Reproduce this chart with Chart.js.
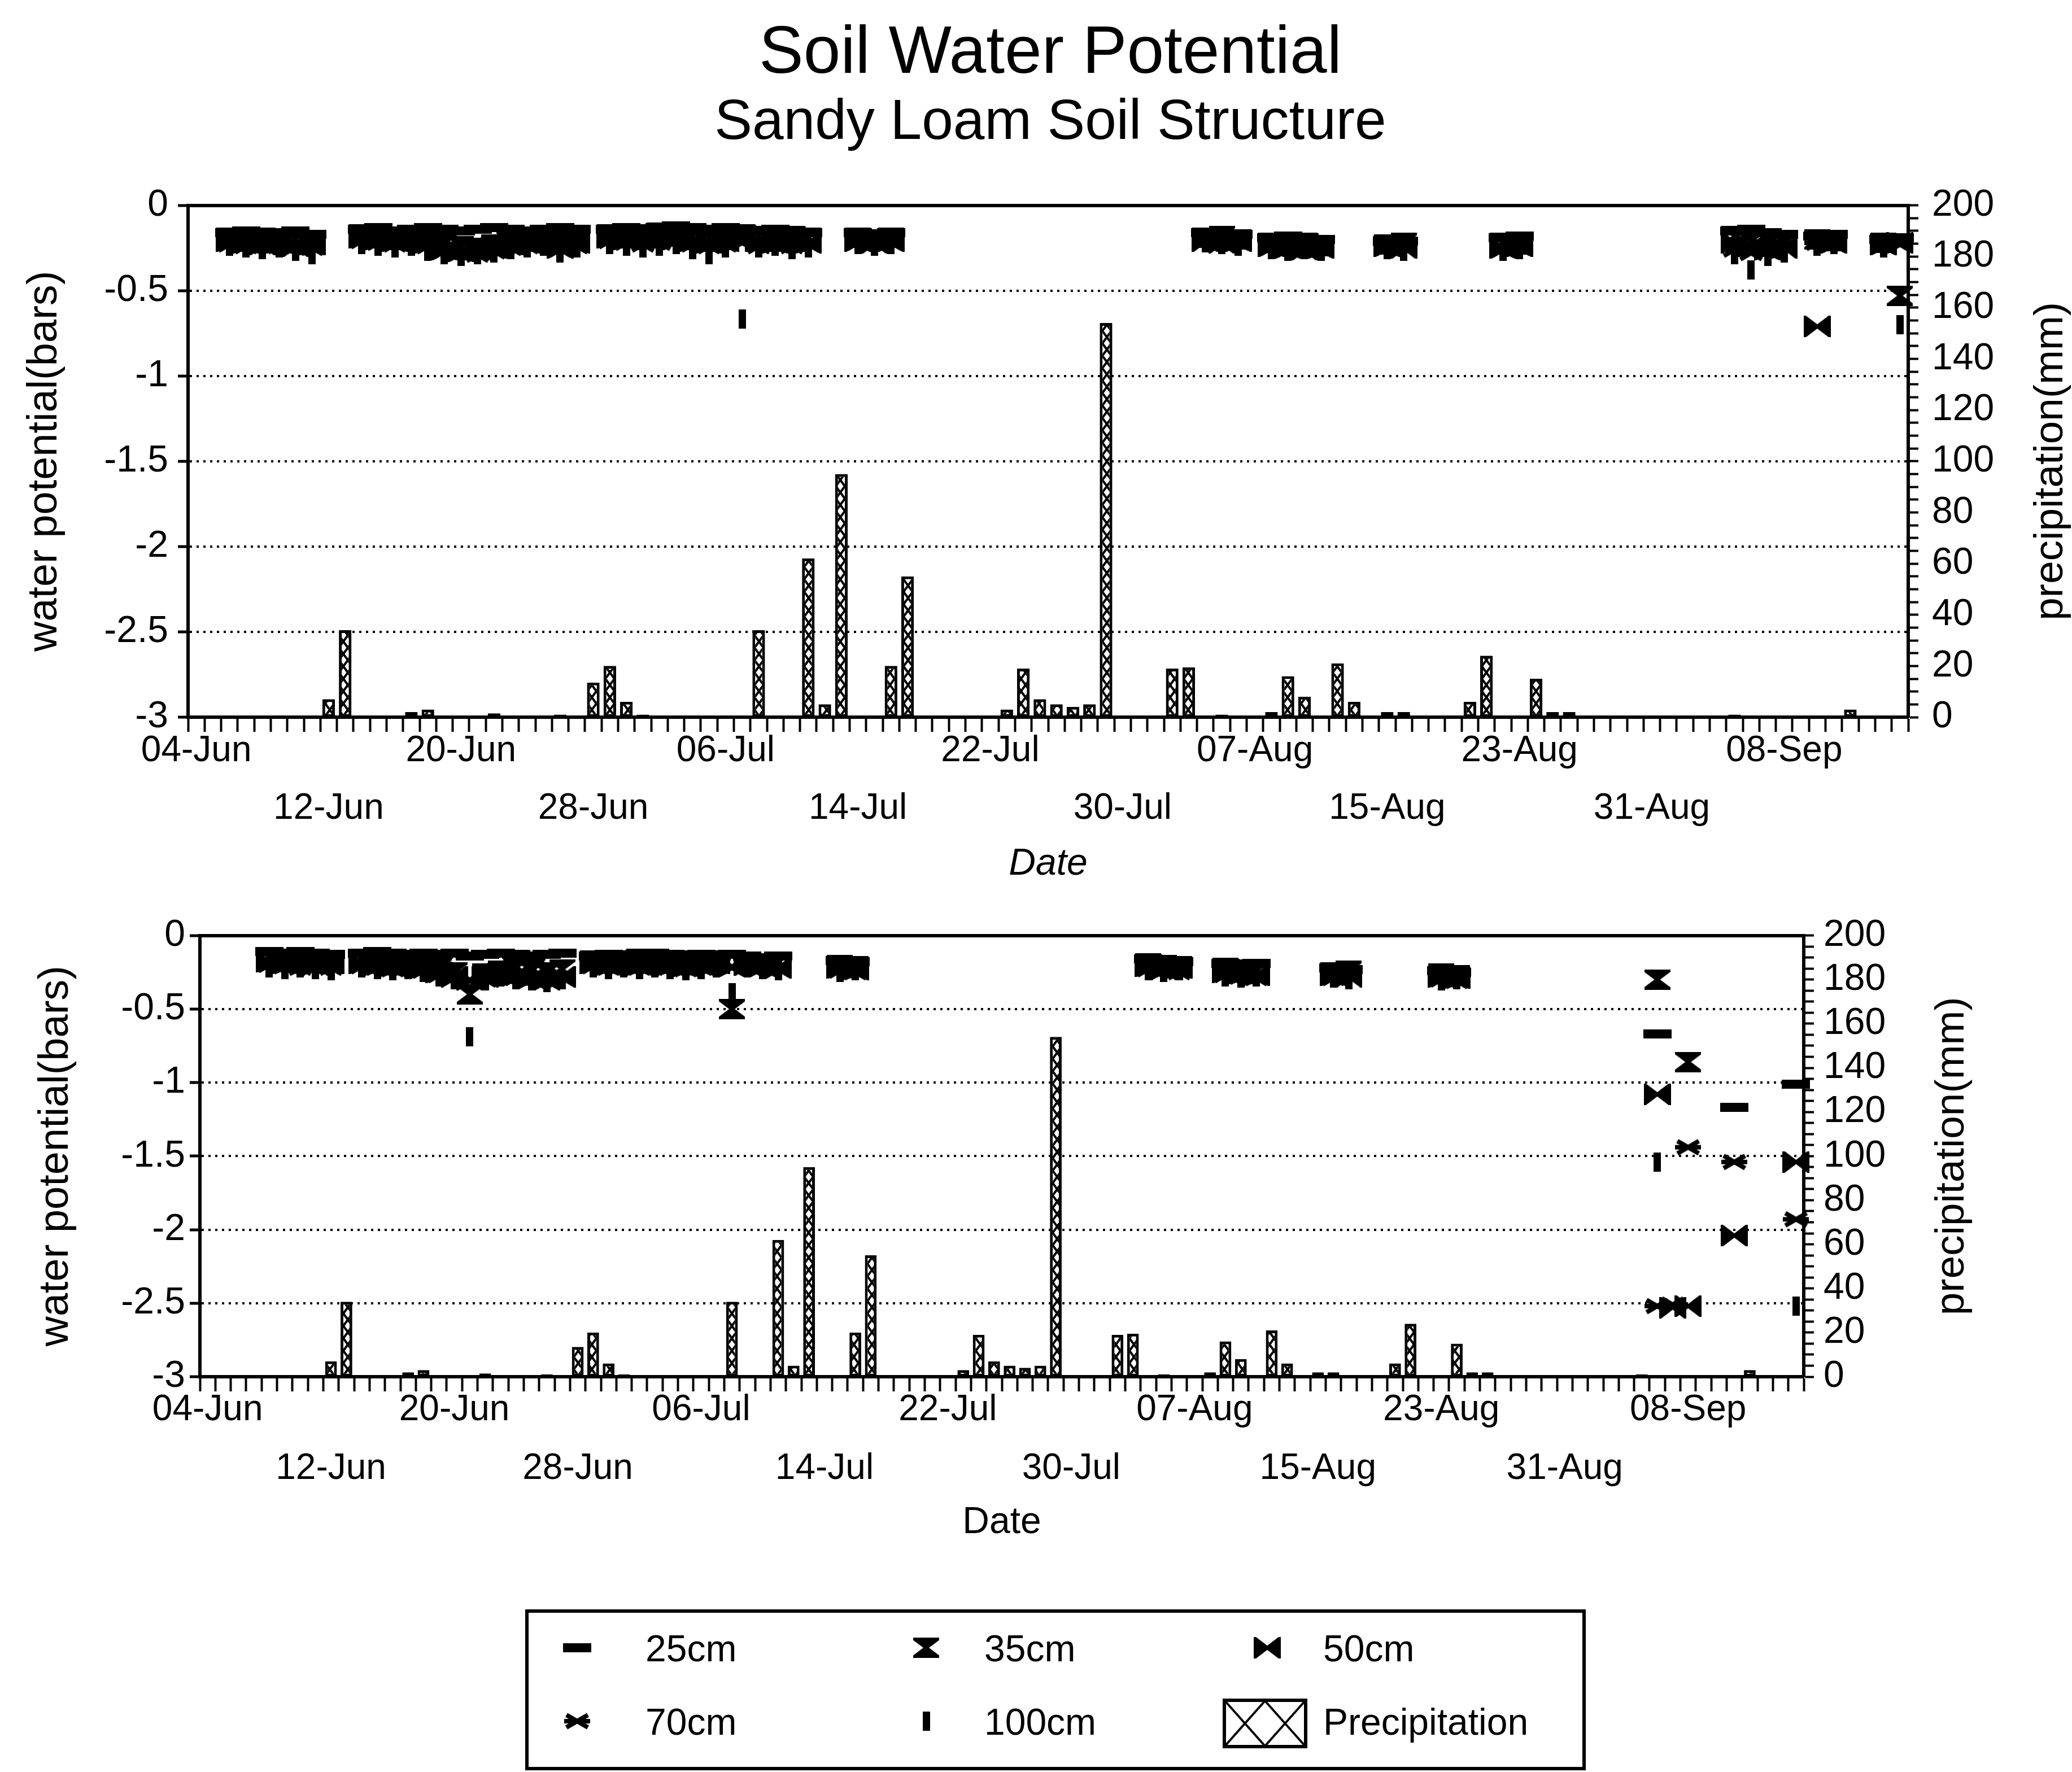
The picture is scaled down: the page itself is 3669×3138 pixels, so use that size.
<!DOCTYPE html>
<html lang="en">
<head>
<meta charset="utf-8">
<title>Soil Water Potential</title>
<script src="https://cdn.jsdelivr.net/npm/chart.js@4.4.1/dist/chart.umd.min.js"></script>
<style>
  html, body { margin: 0; padding: 0; background: #fff; }
  body {
    position: relative; width: 3669px; height: 3138px; overflow: hidden;
    font-family: 'Liberation Sans', Arial, Helvetica, sans-serif; color: #000;
  }
  .heading { position: absolute; left: 0; width: 3720px; text-align: center; line-height: 1; white-space: nowrap; }
  #title { top: 29px; font-size: 118px; }
  #subtitle { top: 161px; font-size: 100px; }
  canvas.panel { position: absolute; left: 0; }
  #upperPanel { top: 300px; }
  #lowerPanel { top: 1600px; }
  #legend {
    position: absolute; left: 930px; top: 2850px; width: 1878px; height: 285px;
    box-sizing: border-box; border: 6px solid #000;
  }
  #legend canvas { position: absolute; }
  #legend .key-label { position: absolute; font-size: 66px; line-height: 1; white-space: nowrap; }
</style>
</head>
<body>
<div id="title" class="heading">Soil Water Potential</div>
<div id="subtitle" class="heading">Sandy Loam Soil Structure</div>
<canvas id="upperPanel" class="panel" width="3669" height="1300"></canvas>
<canvas id="lowerPanel" class="panel" width="3669" height="1150"></canvas>
<div id="legend"></div>
<script>
const _ = null;

// one category per day, 04-Jun .. 15-Sep
const days = [
  '04-Jun','05-Jun','06-Jun','07-Jun','08-Jun','09-Jun','10-Jun','11-Jun',
  '12-Jun','13-Jun','14-Jun','15-Jun','16-Jun','17-Jun','18-Jun','19-Jun',
  '20-Jun','21-Jun','22-Jun','23-Jun','24-Jun','25-Jun','26-Jun','27-Jun',
  '28-Jun','29-Jun','30-Jun','01-Jul','02-Jul','03-Jul','04-Jul','05-Jul',
  '06-Jul','07-Jul','08-Jul','09-Jul','10-Jul','11-Jul','12-Jul','13-Jul',
  '14-Jul','15-Jul','16-Jul','17-Jul','18-Jul','19-Jul','20-Jul','21-Jul',
  '22-Jul','23-Jul','24-Jul','25-Jul','26-Jul','27-Jul','28-Jul','29-Jul',
  '30-Jul','31-Jul','01-Aug','02-Aug','03-Aug','04-Aug','05-Aug','06-Aug',
  '07-Aug','08-Aug','09-Aug','10-Aug','11-Aug','12-Aug','13-Aug','14-Aug',
  '15-Aug','16-Aug','17-Aug','18-Aug','19-Aug','20-Aug','21-Aug','22-Aug',
  '23-Aug','24-Aug','25-Aug','26-Aug','27-Aug','28-Aug','29-Aug','30-Aug',
  '31-Aug','01-Sep','02-Sep','03-Sep','04-Sep','05-Sep','06-Sep','07-Sep',
  '08-Sep','09-Sep','10-Sep','11-Sep','12-Sep','13-Sep','14-Sep','15-Sep'
];

// labelled dates, first and second row under the axis
const dateTicksRow1 = ['04-Jun', '20-Jun', '06-Jul', '22-Jul', '07-Aug', '23-Aug', '08-Sep'];
const dateTicksRow2 = ['12-Jun', '28-Jun', '14-Jul', '30-Jul', '15-Aug', '31-Aug'];

const depths = ['25cm', '35cm', '50cm', '70cm', '100cm'];

// daily rainfall (mm), same gauge for both panels
const precipitation = [
  0, 0, 0, 0, 0, 0, 0, 0,
  7, 34, 0, 0, 0, 2, 3, 0,
  0, 0, 1.5, 0, 0, 0, 1, 0,
  13.5, 20, 6, 1, 0, 0, 0, 0,
  0, 0, 34, 0, 0, 62, 5, 95,
  0, 0, 20, 55, 0, 0, 0, 0,
  0, 3, 19, 7, 5, 4, 5, 154,
  0, 0, 0, 19, 19.5, 0, 1, 0,
  0, 2, 16, 8, 0, 21, 6, 0,
  2, 2, 0, 0, 0, 6, 24, 0,
  0, 15, 2, 2, 0, 0, 0, 0,
  0, 0, 0, 0, 0, 1, 0, 0,
  0, 0, 0, 0, 3, 0, 0, 0
];

// upper panel, water potential (bars) by depth
const upper25 = [
  _, _, -0.16, -0.15, -0.17, -0.16, -0.15, -0.17,
  _, _, -0.14, -0.13, -0.15, -0.14, -0.13, -0.14,
  -0.15, -0.14, -0.13, -0.14, -0.15, -0.14, -0.13, -0.14,
  _, -0.14, -0.13, -0.14, -0.13, -0.12, -0.13, -0.14,
  -0.13, -0.14, -0.15, -0.14, -0.15, -0.16, _, _,
  -0.16, -0.17, -0.16, _, _, _, _, _,
  _, _, _, _, _, _, _, _,
  _, _, _, _, _, -0.16, -0.17, -0.17,
  _, -0.19, -0.18, -0.19, -0.20, _, _, _,
  -0.21, -0.21, _, _, _, _, _, -0.19,
  -0.18, _, _, _, _, _, _, _,
  _, _, _, _, _, -0.15, -0.14, -0.16,
  -0.17, _, -0.18, -0.17, _, _, -0.20, -0.19
];
const upper35 = [
  _, _, -0.19, -0.20, -0.19, -0.21, -0.20, -0.22,
  _, _, -0.17, -0.18, -0.19, -0.18, -0.20, -0.22,
  -0.24, -0.25, -0.23, -0.21, -0.20, -0.19, -0.21, -0.20,
  _, -0.17, -0.18, -0.17, -0.16, -0.17, -0.18, -0.19,
  -0.18, -0.17, -0.18, -0.19, -0.18, -0.19, _, _,
  -0.19, -0.20, -0.19, _, _, _, _, _,
  _, _, _, _, _, _, _, _,
  _, _, _, _, _, -0.19, -0.18, -0.20,
  _, -0.22, -0.23, -0.22, -0.24, _, _, _,
  -0.23, -0.22, _, _, _, _, _, -0.22,
  -0.23, _, _, _, _, _, _, _,
  _, _, _, _, _, -0.18, -0.21, -0.20,
  -0.22, _, -0.20, -0.21, _, _, -0.22, -0.53
];
const upper50 = [
  _, _, -0.21, -0.22, -0.23, -0.22, -0.24, -0.23,
  _, _, -0.19, -0.20, -0.21, -0.20, -0.22, -0.26,
  -0.27, -0.26, -0.25, -0.23, -0.22, -0.21, -0.25, -0.22,
  _, -0.19, -0.20, -0.19, -0.18, -0.20, -0.21, -0.22,
  -0.21, -0.20, -0.21, -0.22, -0.21, -0.22, _, _,
  -0.21, -0.22, -0.21, _, _, _, _, _,
  _, _, _, _, _, _, _, _,
  _, _, _, _, _, -0.21, -0.22, -0.21,
  _, -0.24, -0.25, -0.26, -0.25, _, _, _,
  -0.24, -0.25, _, _, _, _, _, -0.25,
  -0.24, _, _, _, _, _, _, _,
  _, _, _, _, _, -0.22, -0.24, -0.26,
  -0.25, _, -0.71, -0.22, _, _, -0.23, -0.22
];
const upper70 = [
  _, _, -0.23, -0.24, -0.22, -0.24, -0.23, -0.25,
  _, _, -0.21, -0.22, -0.23, -0.22, -0.24, -0.27,
  -0.28, -0.29, -0.27, -0.25, -0.24, -0.23, -0.26, -0.24,
  _, -0.21, -0.22, -0.23, -0.22, -0.21, -0.23, -0.24,
  -0.23, -0.22, -0.24, -0.23, -0.24, -0.23, _, _,
  -0.22, -0.21, -0.22, _, _, _, _, _,
  _, _, _, _, _, _, _, _,
  _, _, _, _, _, -0.20, -0.21, -0.22,
  _, -0.25, -0.26, -0.24, -0.26, _, _, _,
  -0.25, -0.24, _, _, _, _, _, -0.26,
  -0.25, _, _, _, _, _, _, _,
  _, _, _, _, _, -0.26, -0.28, -0.27,
  -0.24, _, -0.22, -0.23, _, _, -0.24, -0.23
];
const upper100 = [
  _, _, -0.24, -0.25, -0.26, -0.25, -0.27, -0.29,
  _, _, -0.23, -0.24, -0.25, -0.24, -0.27, -0.29,
  -0.30, -0.29, -0.28, -0.26, -0.25, -0.24, -0.28, -0.25,
  _, -0.23, -0.24, -0.25, -0.24, -0.23, -0.26, -0.29,
  -0.25, -0.665, -0.25, -0.24, -0.26, -0.25, _, _,
  -0.23, -0.24, -0.23, _, _, _, _, _,
  _, _, _, _, _, _, _, _,
  _, _, _, _, _, -0.22, -0.23, -0.24,
  _, -0.26, -0.27, -0.26, -0.27, _, _, _,
  -0.26, -0.27, _, _, _, _, _, -0.27,
  -0.26, _, _, _, _, _, _, _,
  _, _, _, _, _, -0.29, -0.38, -0.30,
  -0.28, _, -0.24, -0.23, _, _, -0.25, -0.70
];

// lower panel, water potential (bars) by depth
const lower25 = [
  _, _, _, _, -0.11, -0.12, -0.11, -0.12,
  -0.13, _, -0.12, -0.11, -0.12, -0.13, -0.12, -0.13,
  -0.12, -0.14, -0.13, -0.12, -0.13, -0.14, -0.13, -0.12,
  _, -0.14, -0.13, -0.14, -0.13, -0.12, -0.13, -0.14,
  -0.13, -0.14, -0.13, -0.14, -0.15, -0.14, _, _,
  _, -0.17, -0.18, _, _, _, _, _,
  _, _, _, _, _, _, _, _,
  _, _, _, _, _, -0.16, -0.17, -0.18,
  _, _, -0.19, -0.20, -0.19, _, _, _,
  _, -0.22, -0.23, _, _, _, _, _,
  -0.24, -0.25, _, _, _, _, _, _,
  _, _, _, _, _, _, -0.67, _,
  _, _, _, -1.17, _, _, _, -1.01
];
const lower35 = [
  _, _, _, _, -0.15, -0.16, -0.17, -0.16,
  -0.18, _, -0.16, -0.17, -0.18, -0.17, -0.19, -0.22,
  -0.25, -0.40, -0.26, -0.24, -0.22, -0.24, -0.25, -0.23,
  _, -0.17, -0.18, -0.17, -0.16, -0.17, -0.18, -0.17,
  -0.18, -0.17, -0.50, -0.18, -0.19, -0.18, _, _,
  _, -0.20, -0.21, _, _, _, _, _,
  _, _, _, _, _, _, _, _,
  _, _, _, _, _, -0.19, -0.20, -0.21,
  _, _, -0.22, -0.23, -0.24, _, _, _,
  _, -0.25, -0.24, _, _, _, _, _,
  -0.26, -0.27, _, _, _, _, _, _,
  _, _, _, _, _, _, -0.30, _,
  -0.86, _, _, _, _, _, _, _
];
const lower50 = [
  _, _, _, _, -0.18, -0.19, -0.18, -0.20,
  -0.19, _, -0.19, -0.20, -0.21, -0.20, -0.22, -0.25,
  -0.28, -0.30, -0.28, -0.26, -0.27, -0.29, -0.30, -0.28,
  _, -0.19, -0.20, -0.19, -0.20, -0.19, -0.20, -0.21,
  -0.20, -0.19, -0.21, -0.20, -0.21, -0.22, _, _,
  _, -0.22, -0.23, _, _, _, _, _,
  _, _, _, _, _, _, _, _,
  _, _, _, _, _, -0.21, -0.23, -0.22,
  _, _, -0.25, -0.26, -0.27, _, _, _,
  _, -0.27, -0.28, _, _, _, _, _,
  -0.28, -0.29, _, _, _, _, _, _,
  _, _, _, _, _, _, -1.08, -2.53,
  -2.52, _, _, -2.04, _, _, _, -1.54
];
const lower70 = [
  _, _, _, _, -0.20, -0.21, -0.22, -0.21,
  -0.22, _, -0.21, -0.22, -0.23, -0.22, -0.24, -0.27,
  -0.29, -0.31, -0.30, -0.27, -0.29, -0.30, -0.31, -0.29,
  _, -0.21, -0.22, -0.21, -0.22, -0.21, -0.22, -0.23,
  -0.22, -0.21, -0.22, -0.21, -0.22, -0.23, _, _,
  _, -0.24, -0.25, _, _, _, _, _,
  _, _, _, _, _, _, _, _,
  _, _, _, _, _, -0.23, -0.24, -0.25,
  _, _, -0.27, -0.28, -0.29, _, _, _,
  _, -0.29, -0.28, _, _, _, _, _,
  -0.30, -0.31, _, _, _, _, _, _,
  _, _, _, _, _, _, -2.52, -2.51,
  -1.44, _, _, -1.54, _, _, _, -1.93
];
const lower100 = [
  _, _, _, _, -0.22, -0.23, -0.22, -0.23,
  -0.24, _, -0.22, -0.23, -0.24, -0.23, -0.25, -0.28,
  -0.30, -0.69, -0.31, -0.28, -0.30, -0.31, -0.32, -0.30,
  _, -0.22, -0.23, -0.22, -0.23, -0.22, -0.23, -0.24,
  -0.23, -0.22, -0.39, -0.22, -0.23, -0.24, _, _,
  _, -0.25, -0.24, _, _, _, _, _,
  _, _, _, _, _, _, _, _,
  _, _, _, _, _, -0.24, -0.25, -0.24,
  _, _, -0.28, -0.29, -0.28, _, _, _,
  _, -0.29, -0.30, _, _, _, _, _,
  -0.31, -0.30, _, _, _, _, _, _,
  _, _, _, _, _, _, -1.54, _,
  _, _, _, _, _, _, _, -2.52
];

const INK = '#000';
Chart.defaults.font.family = "'Liberation Sans', Arial, Helvetica, sans-serif";
Chart.defaults.color = INK;

// marker glyphs, one per depth
const markerShapes = [
  { w: 50, h: 16, paint: (g, w, h) => g.fillRect(0, 0, w, h) },
  { w: 46, h: 36, paint: (g, w, h) => {   // hourglass
      g.beginPath(); g.moveTo(3, 3); g.lineTo(w - 3, 3); g.lineTo(3, h - 3); g.lineTo(w - 3, h - 3);
      g.closePath(); g.fill(); g.stroke();
  } },
  { w: 48, h: 38, paint: (g, w, h) => {   // bow tie
      g.beginPath(); g.moveTo(3, 3); g.lineTo(3, h - 3); g.lineTo(w - 3, 3); g.lineTo(w - 3, h - 3);
      g.closePath(); g.fill(); g.stroke();
  } },
  { w: 46, h: 30, paint: (g, w, h) => {   // star
      g.lineWidth = 8; g.beginPath();
      g.moveTo(4, 4); g.lineTo(w - 4, h - 4); g.moveTo(w - 4, 4); g.lineTo(4, h - 4);
      g.moveTo(0, h / 2); g.lineTo(w, h / 2); g.stroke();
  } },
  { w: 13, h: 34, paint: (g, w, h) => g.fillRect(0, 0, w, h) }
];

function makeMarker(shape) {
  const c = document.createElement('canvas');
  c.width = shape.w; c.height = shape.h;
  const g = c.getContext('2d');
  g.fillStyle = INK; g.strokeStyle = INK; g.lineWidth = 6;
  shape.paint(g, shape.w, shape.h);
  return c;
}
const markerImages = markerShapes.map(makeMarker);

// cross-hatch fill for the rainfall columns
const hatchTile = document.createElement('canvas');
hatchTile.width = 16; hatchTile.height = 22;
(function () {
  const g = hatchTile.getContext('2d');
  g.fillStyle = '#fff'; g.fillRect(0, 0, 16, 22);
  g.strokeStyle = INK; g.lineWidth = 4;
  g.beginPath(); g.moveTo(0, 0); g.lineTo(16, 22); g.moveTo(16, 0); g.lineTo(0, 22); g.stroke();
})();

// rotated axis captions (both read bottom to top)
const sideTitles = {
  id: 'sideTitles',
  afterDraw(chart, args, opts) {
    const { ctx, chartArea } = chart;
    const midY = (chartArea.top + chartArea.bottom) / 2;
    opts.items.forEach(t => {
      ctx.save();
      ctx.translate(t.x, midY);
      ctx.rotate(-Math.PI / 2);
      ctx.font = `${t.size}px ${Chart.defaults.font.family}`;
      ctx.fillStyle = INK;
      ctx.textAlign = 'center';
      ctx.textBaseline = 'middle';
      ctx.fillText(t.text, 0, 0);
      ctx.restore();
    });
  }
};

function buildPanel(canvasId, series, geo) {
  const canvas = document.getElementById(canvasId);
  const datasets = series.map((values, k) => ({
    type: 'line',
    label: depths[k],
    data: values,
    xAxisID: 'x',
    yAxisID: 'y',
    showLine: false,
    pointStyle: markerImages[k],
    pointRadius: 12,
    pointHoverRadius: 12,
    pointBorderWidth: 0,
    clip: false,
    order: k
  }));
  datasets.push({
    type: 'bar',
    label: 'Precipitation',
    data: precipitation,
    xAxisID: 'x',
    yAxisID: 'y2',
    backgroundColor: canvas.getContext('2d').createPattern(hatchTile, 'repeat'),
    borderColor: INK,
    borderWidth: 5,
    borderSkipped: false,
    barPercentage: 0.76,
    categoryPercentage: 1,
    order: 10
  });

  return new Chart(canvas, {
    type: 'bar',
    data: { labels: days, datasets },
    plugins: [sideTitles],
    options: {
      responsive: false,
      animation: false,
      devicePixelRatio: 1,
      layout: { padding: { top: geo.top, left: 0, right: 0, bottom: 0 } },
      plugins: {
        legend: { display: false },
        tooltip: { enabled: false },
        sideTitles: {
          items: [
            { text: 'water potential(bars)', x: geo.leftTitleX, size: 74 },
            { text: 'precipitation(mm)', x: geo.rightTitleX, size: 73 }
          ]
        }
      },
      scales: {
        x: {
          type: 'category',
          position: 'bottom',
          offset: true,
          grid: {
            offset: true, drawOnChartArea: false, drawTicks: true,
            tickLength: 26, tickWidth: 4, tickColor: INK, color: INK
          },
          border: { display: true, width: 6, color: INK },
          ticks: {
            autoSkip: false, maxRotation: 0, minRotation: 0,
            padding: geo.labelPad,
            font: { size: 64, lineHeight: geo.labelLine },
            callback(value) {
              const day = this.getLabelForValue(value);
              if (dateTicksRow1.includes(day)) return day;
              if (dateTicksRow2.includes(day)) return ['', day];
              return '';
            }
          },
          title: {
            display: true, text: 'Date',
            font: { size: 66, style: geo.dateStyle },
            padding: { top: 0, bottom: geo.datePad }
          },
          afterFit(s) { s.height = geo.xHeight; }
        },
        xTop: {
          type: 'category',
          axis: 'x',
          position: 'top',
          offset: true,
          grid: { display: false, drawTicks: false },
          ticks: { display: false },
          border: { display: true, width: 6, color: INK },
          afterFit(s) { s.height = 0; }
        },
        y: {
          position: 'left',
          min: -3,
          max: 0,
          ticks: {
            stepSize: 0.5,
            padding: geo.yPad,
            font: { size: 66 },
            callback: v => String(v)
          },
          grid: {
            color: c => (c.tick && (c.tick.value === 0 || c.tick.value === -3)) ? 'rgba(0,0,0,0)' : INK,
            lineWidth: 4,
            drawTicks: true, tickLength: 18, tickWidth: 5, tickColor: INK
          },
          border: { display: true, width: 6, color: INK, dash: [4, 8] },
          afterFit(s) { s.width = geo.left; }
        },
        y2: {
          position: 'right',
          min: 0,
          max: 200,
          ticks: {
            stepSize: 5,
            maxTicksLimit: 100,
            autoSkip: false,
            padding: geo.y2Pad,
            font: { size: 66 },
            callback: v => (v % 20 === 0 ? String(v) : '')
          },
          grid: {
            drawOnChartArea: false, drawTicks: true,
            tickLength: 18, tickWidth: 4, tickColor: INK, color: INK
          },
          border: { display: true, width: 6, color: INK },
          afterFit(s) { s.width = geo.right; }
        }
      }
    }
  });
}

buildPanel('upperPanel', [upper25, upper35, upper50, upper70, upper100], {
  top: 45, left: 333, right: 290, xHeight: 330,
  labelPad: -17, labelLine: 1.6, datePad: 30, dateStyle: 'italic',
  yPad: 17, y2Pad: 24, leftTitleX: 80, rightTitleX: 3632
});

buildPanel('lowerPanel', [lower25, lower35, lower50, lower70, lower100], {
  top: 47, left: 354, right: 475, xHeight: 312,
  labelPad: -18, labelLine: 1.62, datePad: 14, dateStyle: 'normal',
  yPad: 8, y2Pad: 17, leftTitleX: 100, rightTitleX: 3457
});

// legend box under the panels
const legend = document.getElementById('legend');
const legendSlots = [
  { mx: 86, my: 62, tx: 207, ty: 30 },
  { mx: 704, my: 62, tx: 807, ty: 30 },
  { mx: 1308, my: 62, tx: 1407, ty: 30 },
  { mx: 86, my: 192, tx: 207, ty: 160 },
  { mx: 704, my: 192, tx: 807, ty: 160 }
];
depths.forEach((d, k) => {
  const slot = legendSlots[k];
  const m = makeMarker(markerShapes[k]);
  m.style.left = (slot.mx - m.width / 2) + 'px';
  m.style.top = (slot.my - m.height / 2) + 'px';
  legend.appendChild(m);
  const t = document.createElement('div');
  t.className = 'key-label';
  t.textContent = d;
  t.style.left = slot.tx + 'px';
  t.style.top = slot.ty + 'px';
  legend.appendChild(t);
});

const swatch = document.createElement('canvas');
swatch.width = 150; swatch.height = 88;
swatch.style.left = '1229px'; swatch.style.top = '152px';
(function () {
  const g = swatch.getContext('2d');
  g.strokeStyle = INK; g.lineWidth = 6;
  g.strokeRect(3, 3, 144, 82);
  g.lineWidth = 4;
  g.beginPath();
  g.moveTo(4, 4); g.lineTo(75, 84); g.moveTo(75, 4); g.lineTo(4, 84);
  g.moveTo(75, 4); g.lineTo(146, 84); g.moveTo(146, 4); g.lineTo(75, 84);
  g.stroke();
})();
legend.appendChild(swatch);
const swatchLabel = document.createElement('div');
swatchLabel.className = 'key-label';
swatchLabel.textContent = 'Precipitation';
swatchLabel.style.left = '1407px';
swatchLabel.style.top = '160px';
legend.appendChild(swatchLabel);
</script>
</body>
</html>
